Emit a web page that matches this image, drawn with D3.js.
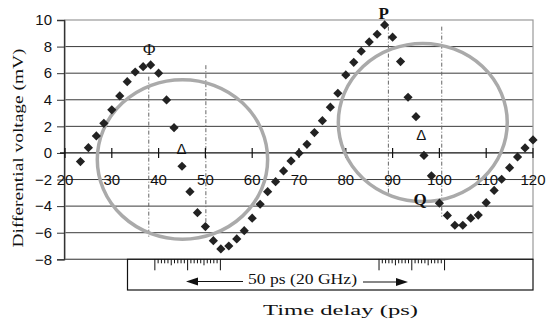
<!DOCTYPE html>
<html>
<head>
<meta charset="utf-8">
<script src="https://cdn.jsdelivr.net/npm/d3@7"></script>
<style>
  body { margin: 0; background: #fff; }
  svg { display: block; }
</style>
</head>
<body>
<div id="chart"></div>
<script>
// Time delay (ps) of each sample
const delays = [23.3, 25, 26.7, 28.3, 30, 31.7, 33.3, 35, 36.7, 38.3, 40, 41.7, 43.3, 45, 46.7, 48.3,
  50, 51.7, 53.3, 55, 56.7, 58.3, 60, 61.7, 63.3, 65, 66.7, 68.3, 70, 71.7, 73.3, 75, 76.7, 78.3,
  80, 81.7, 83.3, 85, 86.7, 88.3, 90, 91.7, 93.3, 95, 96.7, 98.3, 100, 101.7, 103.3, 105, 106.7,
  108.3, 110, 111.7, 113.3, 115, 116.7, 118.3, 120];
// Differential voltage (mV)
const voltages = [-0.65, 0.4, 1.28, 2.23, 3.24, 4.29, 5.36, 6.09, 6.49, 6.62, 6.0, 3.99, 1.9, -1.0,
  -2.91, -4.49, -5.54, -6.6, -7.22, -7.0, -6.47, -5.85, -4.91, -3.86, -2.91, -2.16, -1.35, -0.6,
  -0.02, 0.65, 1.53, 2.43, 3.44, 4.49, 5.87, 6.82, 7.65, 8.35, 8.93, 9.63, 8.71, 6.87, 4.19, 2.73,
  -0.19, -1.72, -3.78, -4.7, -5.44, -5.44, -4.91, -4.67, -3.74, -2.82, -1.98, -1.11, -0.3, 0.38, 0.98];

const xTicks = [20, 30, 40, 50, 60, 70, 80, 90, 100, 110, 120];
const yTicks = [-8, -6, -4, -2, 0, 2, 4, 6, 8, 10];

// vertical guide lines: [x, yTop, yBottom]
const guides = [[37.9, 5.74, -6.4], [50.1, 6.6, -5.8], [89.1, 9.5, -3.0], [100.5, 9.5, -4.8]];
// highlighted regions: [cx, cy, rx (ps), ry (mV)]
const rings = [[45.1, -0.49, 18.2, 6.0], [96.45, 2.29, 18.05, 5.95]];
// labels: [text, x, y, bold]
const marks = [["Φ", 38, 7.4, false], ["P", 88.1, 10.05, true], ["Q", 95.9, -3.95, true],
  ["Δ", 44.9, -0.1, false], ["Δ", 96.1, 0.94, false]];
// ruler start points (ps) in the bottom box
const rulers = [39.2, 87.1];

const width = 548, height = 323;
const svg = d3.select("#chart").append("svg")
  .attr("width", width).attr("height", height);

const x = d3.scaleLinear().domain([20, 120]).range([65, 533]);
const y = d3.scaleLinear().domain([-8, 10]).range([259.3, 20]);

// grid lines
svg.append("g")
  .selectAll("line")
  .data(yTicks.filter(d => d !== 0 && d !== 10 && d !== -8))
  .enter().append("line")
  .attr("x1", x(20)).attr("x2", x(120))
  .attr("y1", d => y(d)).attr("y2", d => y(d))
  .attr("stroke", "#3a3a3a").attr("stroke-width", 1);

// plot frame
svg.append("rect")
  .attr("x", x(20)).attr("y", y(10))
  .attr("width", x(120) - x(20)).attr("height", y(-8) - y(10))
  .attr("fill", "none").attr("stroke", "#999").attr("stroke-width", 1.2);
svg.append("line")
  .attr("x1", x(20)).attr("x2", x(120)).attr("y1", y(-8)).attr("y2", y(-8))
  .attr("stroke", "#555");

// dash-dot guides
svg.append("g").selectAll("line")
  .data(guides).enter().append("line")
  .attr("x1", d => x(d[0])).attr("x2", d => x(d[0]))
  .attr("y1", d => y(d[1])).attr("y2", d => y(d[2]))
  .attr("stroke", "#666").attr("stroke-width", 1)
  .attr("stroke-dasharray", "4,2,1,2");

// left axis
const yAxis = d3.axisLeft(y).tickValues(yTicks).tickSize(7).tickPadding(5)
  .tickFormat(d => d < 0 ? "\u2212" + Math.abs(d) : d);
const ga = svg.append("g").attr("transform", `translate(${x(20) - 1},0)`).call(yAxis);
ga.select(".domain").attr("stroke", "#333").attr("stroke-width", 1.3);
ga.selectAll(".tick line").attr("stroke", "#333");
ga.selectAll("text").attr("font-family", "Liberation Sans, Arial, sans-serif")
  .attr("font-size", 15).attr("fill", "#111");

// zero axis with crossing ticks
const gx = svg.append("g").attr("transform", `translate(0,${y(0)})`);
gx.append("line").attr("x1", x(20) - 5).attr("x2", x(120))
  .attr("stroke", "#111").attr("stroke-width", 1.3);
gx.selectAll(".xt").data(xTicks).enter().append("line")
  .attr("x1", d => x(d)).attr("x2", d => x(d)).attr("y1", -5).attr("y2", 5)
  .attr("stroke", "#111").attr("stroke-width", 1.2);
gx.selectAll("text").data(xTicks).enter().append("text")
  .attr("x", d => x(d)).attr("y", 32)
  .attr("text-anchor", "middle")
  .attr("font-family", "Liberation Sans, Arial, sans-serif").attr("font-size", 15)
  .attr("fill", "#111")
  .text(d => d);

// rings
svg.append("g").selectAll("ellipse")
  .data(rings).enter().append("ellipse")
  .attr("cx", d => x(d[0])).attr("cy", d => y(d[1]))
  .attr("rx", d => x(d[0] + d[2]) - x(d[0]))
  .attr("ry", d => y(d[1] - d[3]) - y(d[1]))
  .attr("fill", "none").attr("stroke", "#aaa").attr("stroke-width", 3.5);

// data points
const points = delays.map((d, i) => ({ t: d, v: voltages[i] }));
const s = 4.6;
svg.append("g").selectAll("path")
  .data(points).enter().append("path")
  .attr("d", `M0,${-s}L${s},0L0,${s}L${-s},0Z`)
  .attr("transform", d => `translate(${x(d.t)},${y(d.v)})`)
  .attr("fill", "#222");

// point labels
svg.append("g").selectAll("text")
  .data(marks).enter().append("text")
  .attr("x", d => x(d[1])).attr("y", d => y(d[2]))
  .attr("text-anchor", "middle")
  .attr("font-family", d => d[0] === "Δ" ? "Liberation Sans, Arial, sans-serif" : "Liberation Serif, Times New Roman, serif")
  .attr("font-weight", d => d[3] ? "bold" : "normal")
  .attr("font-size", d => d[0] === "Δ" ? 15 : 17)
  .attr("fill", "#111")
  .text(d => d[0]);

// bottom box with rulers
const box = svg.append("g");
box.append("rect").attr("x", 127.5).attr("y", y(-8)).attr("width", x(120) - 127.5)
  .attr("height", 290 - y(-8)).attr("fill", "#fff").attr("stroke", "#111").attr("stroke-width", 1.2);
rulers.forEach(r0 => {
  const ticks = d3.range(21);
  box.selectAll(null).data(ticks).enter().append("line")
    .attr("x1", i => x(r0 + i * 0.7)).attr("x2", i => x(r0 + i * 0.7))
    .attr("y1", y(-8)).attr("y2", i => y(-8) + (i % 10 === 0 ? 11 : (i % 5 === 0 ? 6 : 4)))
    .attr("stroke", "#111").attr("stroke-width", 1);
});
box.append("line").attr("x1", 243).attr("x2", 192).attr("y1", 281.5).attr("y2", 281.5)
  .attr("stroke", "#111").attr("stroke-width", 1.2);
box.append("path").attr("d", "M186,281.5L198,277.5L198,285.5Z").attr("fill", "#111");
box.append("line").attr("x1", 363).attr("x2", 402).attr("y1", 282).attr("y2", 282)
  .attr("stroke", "#111").attr("stroke-width", 1.2);
box.append("path").attr("d", "M408,282L396,278L396,286Z").attr("fill", "#111");
box.append("text").attr("x", 248).attr("y", 284)
  .attr("font-family", "Liberation Serif, Times New Roman, serif").attr("font-size", 15)
  .attr("textLength", 109).attr("lengthAdjust", "spacingAndGlyphs")
  .attr("fill", "#111").text("50 ps (20 GHz)");

// axis titles
svg.append("text").attr("x", 263).attr("y", 315)
  .attr("font-family", "Liberation Serif, Times New Roman, serif").attr("font-size", 15)
  .attr("textLength", 155).attr("lengthAdjust", "spacingAndGlyphs")
  .attr("fill", "#111").text("Time delay (ps)");
svg.append("text")
  .attr("transform", "translate(23,148) rotate(-90)")
  .attr("text-anchor", "middle")
  .attr("font-family", "Liberation Serif, Times New Roman, serif").attr("font-size", 15)
  .attr("textLength", 199).attr("lengthAdjust", "spacingAndGlyphs")
  .attr("fill", "#111").text("Differential voltage (mV)");
</script>
</body>
</html>
